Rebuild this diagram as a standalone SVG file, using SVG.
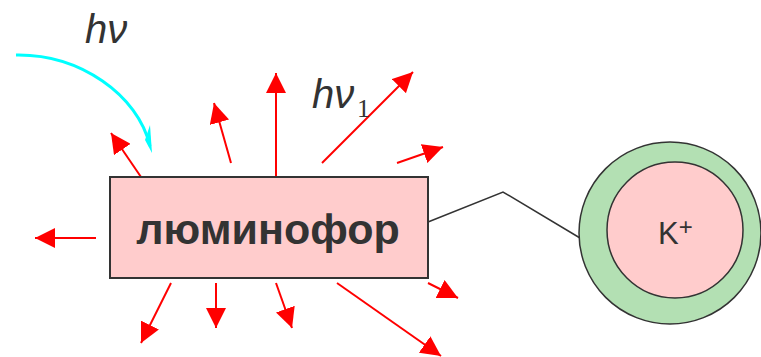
<svg xmlns="http://www.w3.org/2000/svg" width="761" height="357" viewBox="0 0 761 357">
<style>
.ray{stroke:#ff0000;stroke-width:2;fill:none;marker-end:url(#ah)}
.lbl{font-family:"Liberation Sans",Arial,sans-serif;fill:#333}
</style>
<defs>
<marker id="ah" markerUnits="userSpaceOnUse" markerWidth="20" markerHeight="20" refX="20" refY="10" orient="auto" viewBox="0 0 20 20">
<path d="M0,0 L20,10 L0,20 Z" fill="#ff0000"/>
</marker>
</defs>
<rect width="761" height="357" fill="#ffffff"/>
<g id="connectors">
<polyline points="428,222 503,192 580,238" fill="none" stroke="#333" stroke-width="1.5"/>
<path d="M16,55 C80,54 138,95 150,146" fill="none" stroke="#00ffff" stroke-width="3"/>
<polygon points="145,140 150,125 152,153" fill="#00ffff"/>
<line class="ray" x1="141" y1="177" x2="111" y2="133"/>
<line class="ray" x1="231" y1="163" x2="214" y2="103"/>
<line class="ray" x1="276" y1="177" x2="276" y2="73"/>
<line class="ray" x1="322" y1="163" x2="413" y2="72"/>
<line class="ray" x1="397" y1="163" x2="443" y2="147"/>
<line class="ray" x1="96" y1="238" x2="35" y2="238"/>
<line class="ray" x1="171" y1="283" x2="141" y2="343"/>
<line class="ray" x1="216" y1="283" x2="216" y2="328"/>
<line class="ray" x1="276" y1="283" x2="292" y2="328"/>
<line class="ray" x1="337" y1="283" x2="441" y2="356"/>
<line class="ray" x1="428" y1="283" x2="458" y2="298"/>
</g>
<g id="luminofor">
<rect x="110" y="177" width="318" height="101" fill="#ffcccc" stroke="#333" stroke-width="2"/>
<text class="lbl" x="268" y="244" font-size="43" font-weight="bold" text-anchor="middle">люминофор</text>
</g>
<g id="potassium">
<circle cx="670" cy="233" r="91" fill="#b3e0b3" stroke="#333" stroke-width="1.5"/>
<circle cx="675" cy="230" r="68" fill="#ffcccc" stroke="#333" stroke-width="1.5"/>
<text class="lbl" x="658" y="244" font-size="31">K<tspan font-size="24" dy="-9">+</tspan></text>
</g>
<g id="hv">
<text class="lbl" x="85" y="43" font-size="40" font-style="italic">hν</text>
</g>
<g id="hv1">
<text class="lbl" x="312" y="108" font-size="40" font-style="italic">hν</text>
<text x="357" y="117" font-size="26" fill="#333" font-family="'Liberation Serif','Times New Roman',serif">1</text>
</g>
</svg>
